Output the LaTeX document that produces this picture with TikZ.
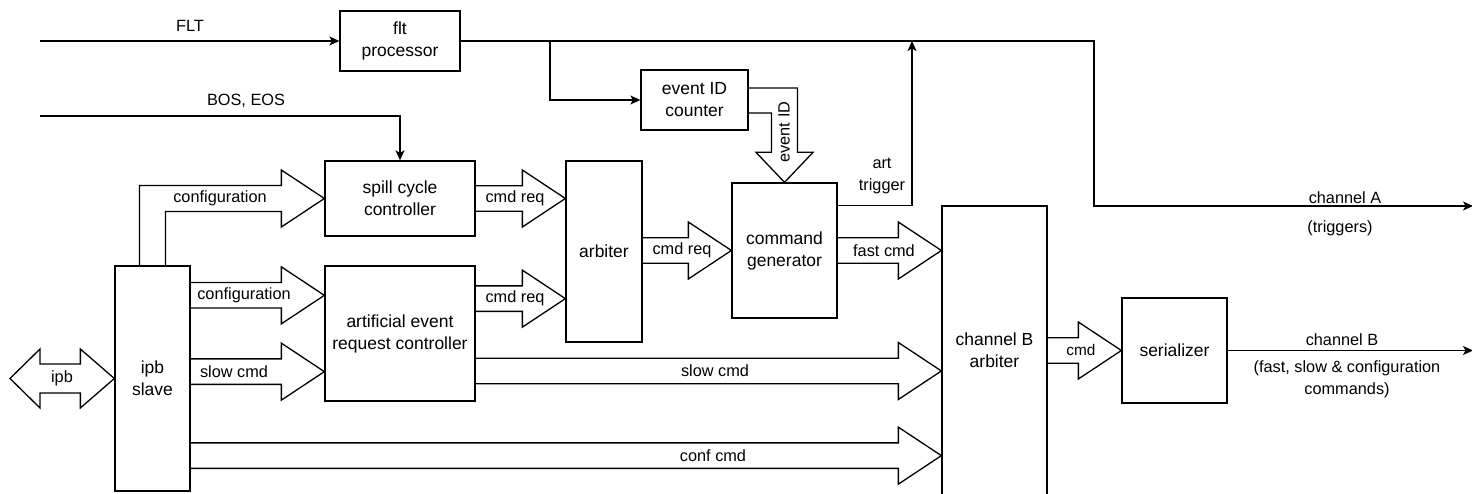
\documentclass[tikz,border=0pt]{standalone}
\usepackage{fontspec}
\setmainfont{Liberation Sans}
\usetikzlibrary{calc,arrows.meta}

% hollow bus arrow: start node, tip point, label, label x
\newcommand{\fatarrow}[5][]{%
  \draw[fat] let \p1=(#2), \p2=(#3) in
    (\x1,\y2+12.75pt) -- (\x2-43pt,\y2+12.75pt) -- (\x2-43pt,\y2+28.5pt) -- (\x2,\y2)
    -- (\x2-43pt,\y2-28.5pt) -- (\x2-43pt,\y2-12.75pt) -- (\x1,\y2-12.75pt);
  \path let \p2=(#3) in node[lbl,#1] at (#5pt,\y2) {#4};}

\begin{document}
\begin{tikzpicture}[x=1pt, y=1pt,
    blk/.style={draw, line width=1.3pt, align=center, inner sep=0pt,
      font=\fontsize{17.5}{22}\selectfont},
    lbl/.style={align=center, inner sep=0pt, font=\fontsize{16.3}{22}\selectfont},
    fat/.style={draw, line width=1.3pt},
    sig/.style={draw, line width=1.3pt},
    >={Stealth[length=10pt, width=9pt, inset=2.5pt]}]
        \useasboundingbox (0,0) rectangle (1472,494);

        % Blocks
        \node[blk, minimum width=120pt, minimum height=60pt] (flt) at (400,453) {flt\\processor};
        \node[blk, minimum width=107pt, minimum height=60pt] (evc) at (694.5,394) {event ID\\counter};
        \node[blk, minimum width=150pt, minimum height=75pt] (spill) at (400,295.5) {spill cycle\\controller};
        \node[blk, minimum width=75pt, minimum height=225pt] (ipb) at (152.5,115.5) {ipb\\slave};
        \node[blk, minimum width=150pt, minimum height=135pt] (aerc) at (400,160.5) {artificial event\\request controller};
        \node[blk, minimum width=76pt, minimum height=181pt] (arb) at (604,242.5) {arbiter};
        \node[blk, minimum width=105pt, minimum height=135pt] (cmdgen) at (784.5,243.5) {command\\generator};
        \node[blk, minimum width=105pt, minimum height=289pt] (chb) at (994.5,143.5) {channel B\\arbiter};
        \node[blk, minimum width=105pt, minimum height=105pt] (ser) at (1174.5,143.5) {serializer};

        % Free ends and bends
        \coordinate (fltin) at (40,453);
        \coordinate (bosin) at (40,378);
        \coordinate (split) at (550,453);
        \coordinate (trig) at (912,453);
        \coordinate (chaturn) at (1094,288);
        \coordinate (chaout) at (1473,288);
        \coordinate (chbout) at (1473,143.5);
        \coordinate (ipbin) at (10,115.5);

        % Signal lines
        \draw[sig,->] (fltin) -- (flt.west);
        \draw[sig,->] (flt.east) -| (chaturn) -- (chaout);
        \draw[sig,->] (split) |- (evc.west);
        \draw[sig,->] (bosin) -| (spill.north);
        \draw[sig,->] ([yshift=-23pt]cmdgen.north east) -| (trig);
        \draw[sig,->] (ser.east) -- (chbout);

        % Bus arrows
        \draw[fat] let \p1=(ipbin), \p2=(ipb.west) in
          (\x1,\y2) -- (\x1+30pt,\y2+29.5pt) -- (\x1+30pt,\y2+14.5pt) -- (\x2-34pt,\y2+14.5pt)
          -- (\x2-34pt,\y2+29.5pt) -- (\x2,\y2) -- (\x2-34pt,\y2-29.5pt) -- (\x2-34pt,\y2-14.5pt)
          -- (\x1+30pt,\y2-14.5pt) -- (\x1+30pt,\y2-29.5pt) -- cycle;
        \draw[fat] let \p1=(ipb.north), \p2=(spill.west) in
          (\x1-13pt,\y1) -- (\x1-13pt,\y2+13pt) -- (\x2-43pt,\y2+13pt) -- (\x2-43pt,\y2+28.5pt)
          -- (\x2,\y2) -- (\x2-43pt,\y2-28.5pt) -- (\x2-43pt,\y2-13pt) -- (\x1+13pt,\y2-13pt)
          -- (\x1+13pt,\y1);
        \draw[fat] let \p1=(evc.east), \p2=(cmdgen.north) in
          (\x1,\y1+12pt) -- (\x2+13pt,\y1+12pt) -- (\x2+13pt,\y2+30pt) -- (\x2+28.5pt,\y2+30pt)
          -- (\x2,\y2) -- (\x2-28.5pt,\y2+30pt) -- (\x2-13pt,\y2+30pt) -- (\x2-13pt,\y1-13pt)
          -- (\x1,\y1-13pt);
        \fatarrow{ipb.east}{[yshift=-30pt]aerc.north west}{configuration}{244}
        \fatarrow{ipb.east}{[yshift=30pt]aerc.south west}{slow cmd}{234}
        \fatarrow{ipb.east}{[yshift=40pt]chb.south west}{conf cmd}{713}
        \fatarrow{aerc.east}{[yshift=-20.5pt]chb.west}{slow cmd}{715}
        \fatarrow{spill.east}{arb.west |- spill.east}{cmd req}{515}
        \fatarrow{aerc.east}{[yshift=44pt]arb.south west}{cmd req}{515}
        \fatarrow{arb.east}{cmdgen.west}{cmd req}{682}
        \fatarrow{cmdgen.east}{chb.west |- cmdgen.east}{fast cmd}{884}
        \fatarrow[font=\fontsize{15.4}{18}\selectfont]{chb.east}{ser.west}{cmd}{1081}

        % Labels
        \node[lbl] (fltlbl) at (190,468) {FLT};
        \node[lbl] (boslbl) at (246,393) {BOS, EOS};
        \node[lbl] (ipblbl) at (62,115.5) {ipb};
        \node[lbl] (cfglbl) at (220,296) {configuration};
        \node[lbl, rotate=90] (evlbl) at (784,362) {event ID};
        \node[lbl] (trglbl) at (882,318) {art\\trigger};
        \node[lbl] (chalbl) at (1345,296.5) {channel A};
        \node[lbl] (chasub) at (1340,266) {(triggers)};
        \node[lbl] (chblbl) at (1342,154) {channel B};
        \node[lbl] (chbsub) at (1347,115) {(fast, slow \& configuration\\commands)};
    \end{tikzpicture}
\end{document}
